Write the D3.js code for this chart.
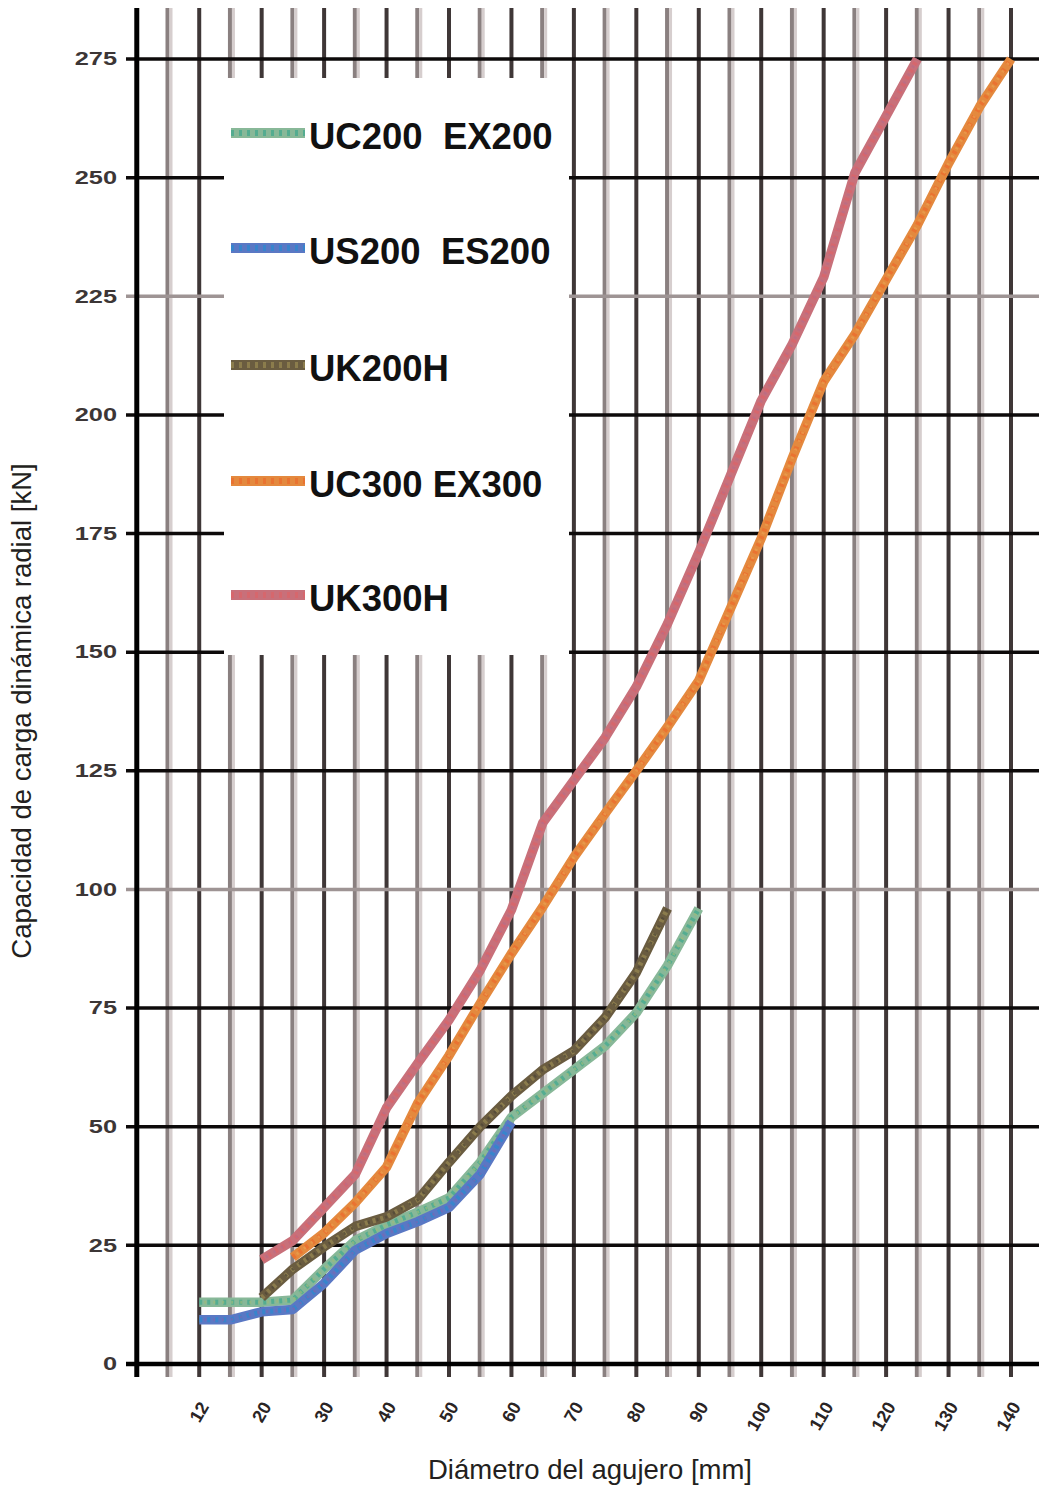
<!DOCTYPE html>
<html><head><meta charset="utf-8">
<script src="https://cdn.jsdelivr.net/npm/d3@7"></script>
<style>body{margin:0;background:#fff}svg{display:block}</style>
</head><body><svg id="c" width="1039" height="1486"></svg>
<script>
// ---- data ----
const categories = ["10","12","15","20","25","30","35","40","45","50","55","60","65","70","75","80","85","90","95","100","105","110","115","120","125","130","135","140"];
const tickLabels = ["12","20","30","40","50","60","70","80","90","100","110","120","130","140"];
const yTicks = [0,25,50,75,100,125,150,175,200,225,250,275];
const seriesNames = ["UC200  EX200","US200  ES200","UK200H","UC300 EX300","UK300H"];
const uc200ex200 = [null,13,13,13,13.5,20,26,29.3,32,35,42.5,52,57,62,67,74,84,96,null,null,null,null,null,null,null,null,null,null];
const us200es200 = [null,9.3,9.3,11,11.5,17,24,27.5,30,33,40,51,null,null,null,null,null,null,null,null,null,null,null,null,null,null,null,null];
const uk200h     = [null,null,null,14,20,24.7,29,31,34.6,42.5,50,56.5,62,66,73,82.5,96,null,null,null,null,null,null,null,null,null,null,null];
const uc300ex300 = [null,null,null,null,22.5,27.6,34,41.5,55,65,76,86.5,96.3,106.8,116,125,134.3,144,159,174,191,207,217,228.5,240,253,265,275];
const uk300h     = [null,null,null,22,26,33,40,54,63.4,72.5,83,95.7,114,123,132,142.7,156,171,187,203,215,229,251,263,275,null,null,null];
const seriesValues = [uc200ex200, us200es200, uk200h, uc300ex300, uk300h];

// ---- styles ----
const styles = [
  {base:"#88b898", over:"#3fa88e", over2:"#9cba7a"},
  {base:"#5a78c4", over:"#2a8ad0", over2:"#7a66b0"},
  {base:"#6a5c40", over:"#9a8a52", over2:"#4e4636"},
  {base:"#e4893e", over:"#ec6a2c", over2:"#e9a050"},
  {base:"#c8707a", over:"#dc6468", over2:"#b86c88"}
];
const font = "'Liberation Sans', Arial, sans-serif";

const svg = d3.select("#c");
const x = d3.scalePoint().domain(categories).range([168, 1011]);
const step = x.step();
const x0 = x(categories[0]) - step; // y-axis position
const y = d3.scaleLinear().domain([0, 275]).range([1364, 59]);
const yTop = 8, xRight = 1039;

// vertical gridlines
const g = svg.append("g");
categories.forEach((c, i) => {
  const xx = x(c);
  const labeled = tickLabels.includes(c);
  if (labeled) {
    g.append("line").attr("x1", xx).attr("x2", xx).attr("y1", yTop).attr("y2", 1377)
      .attr("stroke", "#3f3737").attr("stroke-width", 4);
  } else {
    g.append("line").attr("x1", xx - 0.5).attr("x2", xx - 0.5).attr("y1", yTop).attr("y2", 1377)
      .attr("stroke", "#8a8080").attr("stroke-width", 4);
    g.append("line").attr("x1", xx + 3).attr("x2", xx + 3).attr("y1", yTop).attr("y2", 1377)
      .attr("stroke", "#d6cece").attr("stroke-width", 3);
  }
});

// horizontal gridlines
yTicks.forEach(t => {
  const grey = (t === 225 || t === 100);
  g.append("line").attr("x1", 126).attr("x2", xRight).attr("y1", y(t)).attr("y2", y(t))
    .attr("stroke", grey ? "#9e9494" : "#0d0a0a").attr("stroke-width", 3.5);
});

// y axis & x axis lines
g.append("line").attr("x1", x0).attr("x2", x0).attr("y1", yTop).attr("y2", 1377)
  .attr("stroke", "#000").attr("stroke-width", 5);
g.append("line").attr("x1", 126).attr("x2", xRight).attr("y1", y(0)).attr("y2", y(0))
  .attr("stroke", "#000").attr("stroke-width", 4.5);

// legend box (covers gridlines)
svg.append("rect").attr("x", 224).attr("y", 78).attr("width", 345).attr("height", 577).attr("fill", "#fff");

// y tick labels
yTicks.forEach(t => {
  svg.append("text").attr("transform", `translate(117,${y(t)}) scale(1.45,1)`)
    .attr("text-anchor", "end").attr("dy", "0.36em")
    .attr("font-family", font).attr("font-size", 17.5).attr("font-weight", "bold")
    .attr("fill", "#3c3636").text(t);
});

// x tick labels
tickLabels.forEach(l => {
  svg.append("text").attr("transform", `translate(${x(l) - 1},${1400}) rotate(-60)`)
    .attr("text-anchor", "end").attr("dy", "0.72em")
    .attr("font-family", font).attr("font-size", 18).attr("font-weight", "bold")
    .attr("fill", "#2a2424").text(l);
});

// series lines
const line = d3.line().defined(d => d.v != null).x(d => x(d.c)).y(d => y(d.v)).curve(d3.curveLinear);
seriesValues.forEach((vals, si) => {
  const data = categories.map((c, i) => ({c, v: vals[i]}));
  const st = styles[si];
  svg.append("path").datum(data).attr("d", line).attr("fill", "none")
    .attr("stroke", st.base).attr("stroke-width", 9.5).attr("stroke-linejoin", "round");
  svg.append("path").datum(data).attr("d", line).attr("fill", "none")
    .attr("stroke", st.over).attr("stroke-width", 5).attr("stroke-dasharray", "3,5").attr("opacity", 0.7);
  svg.append("path").datum(data).attr("d", line).attr("fill", "none")
    .attr("stroke", st.over2).attr("stroke-width", 3).attr("stroke-dasharray", "2,7").attr("stroke-dashoffset", 4).attr("opacity", 0.7);
});

// legend entries
const legY = [133, 248, 365, 481, 595];
seriesNames.forEach((n, i) => {
  const st = styles[i];
  svg.append("line").attr("x1", 231).attr("x2", 305).attr("y1", legY[i]).attr("y2", legY[i])
    .attr("stroke", st.base).attr("stroke-width", 10);
  svg.append("line").attr("x1", 231).attr("x2", 305).attr("y1", legY[i]).attr("y2", legY[i])
    .attr("stroke", st.over).attr("stroke-width", 6).attr("stroke-dasharray", "3,5").attr("opacity", 0.7);
  svg.append("text").attr("x", 309).attr("y", legY[i] + 16)
    .attr("font-family", font).attr("font-size", 36.5).attr("font-weight", "bold")
    .attr("fill", "#111").style("white-space", "pre").text(n);
});

// axis titles
svg.append("text").attr("transform", `translate(31,711) rotate(-90)`)
  .attr("text-anchor", "middle").attr("font-family", font).attr("font-size", 27.5)
  .attr("fill", "#231f20").text("Capacidad de carga dinámica radial [kN]");
svg.append("text").attr("x", 590).attr("y", 1479)
  .attr("text-anchor", "middle").attr("font-family", font).attr("font-size", 27.5)
  .attr("fill", "#231f20").text("Diámetro del agujero [mm]");
</script></body></html>
